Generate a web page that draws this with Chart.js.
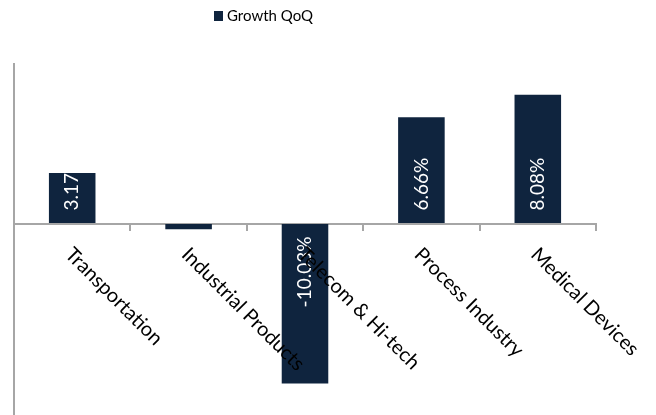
<!DOCTYPE html>
<html><head><meta charset="utf-8">
<script src="https://cdn.jsdelivr.net/npm/chart.js@4"></script>
<style>html,body{margin:0;padding:0;background:#fff;overflow:hidden}#wrap{width:656px;height:415px;position:relative}</style>
</head><body><div id="wrap"><canvas id="c"></canvas></div>
<script>
const categories = ['Transportation', 'Industrial Products', 'Telecom & Hi-tech', 'Process Industry', 'Medical Devices'];
const growthQoQ = [3.17, -0.35, -10.03, 6.66, 8.08];
const valueLabels = ['3.17', '', '-10.03%', '6.66%', '8.08%'];
const seriesName = 'Growth QoQ';
const yMin = -12;
const yMax = 10;

const BAR = '#0f243e';
const AXIS = '#a6a6a6';
const FONT = 'Lato, "Open Sans", sans-serif';

const drawTexts = {
  id: 'drawTexts',
  afterDatasetsDraw(chart) {
    const ctx = chart.ctx;
    const meta = chart.getDatasetMeta(0);
    const ys = chart.scales.y;
    const xs = chart.scales.x;
    const zero = ys.getPixelForValue(0);
    // value labels
    ctx.save();
    ctx.font = '19px ' + FONT;
    ctx.fillStyle = '#ffffff';
    meta.data.forEach((bar, i) => {
      const txt = valueLabels[i];
      if (!txt) return;
      const pos = growthQoQ[i] >= 0;
      ctx.save();
      ctx.translate(bar.x, zero + (pos ? -13 : 13));
      ctx.rotate(-Math.PI / 2);
      ctx.textBaseline = 'middle';
      ctx.textAlign = pos ? 'left' : 'right';
      ctx.fillText(txt, 0, 0);
      ctx.restore();
    });
    ctx.restore();
    // category labels
    ctx.save();
    const fs = 20;
    ctx.font = fs + 'px ' + FONT;
    ctx.fillStyle = '#000000';
    const cap = 0.7165 * fs * 0.7071;
    categories.forEach((label, i) => {
      const cx = xs.getPixelForValue(i);
      ctx.save();
      ctx.translate(cx + 2 - cap, zero + 22 + cap);
      ctx.rotate(Math.PI / 4);
      ctx.textBaseline = 'alphabetic';
      ctx.textAlign = 'left';
      ctx.fillText(label, 0, 0);
      ctx.restore();
    });
    ctx.restore();
    // legend
    ctx.save();
    ctx.fillStyle = BAR;
    ctx.fillRect(214, 11, 9, 10);
    ctx.fillStyle = '#000000';
    ctx.font = '15px ' + FONT;
    ctx.textBaseline = 'middle';
    ctx.textAlign = 'left';
    ctx.fillText(seriesName, 227, 16.5);
    ctx.restore();
  }
};

new Chart(document.getElementById('c'), {
  type: 'bar',
  data: {
    labels: categories,
    datasets: [{
      label: seriesName,
      data: growthQoQ,
      backgroundColor: BAR,
      borderWidth: 0,
      barPercentage: 0.4,
      categoryPercentage: 1.0
    }]
  },
  options: {
    responsive: true,
    maintainAspectRatio: false,
    animation: false,
    layout: { padding: { left: 14, right: 60, top: 64, bottom: 0 } },
    plugins: { legend: { display: false }, tooltip: { enabled: false }, title: { display: false } },
    scales: {
      x: {
        position: { y: 0 },
        z: 1,
        offset: true,
        ticks: { display: false },
        grid: { offset: true, drawOnChartArea: false, drawTicks: true, tickLength: 6, color: AXIS, lineWidth: 2 },
        border: { display: true, color: AXIS, width: 2 }
      },
      y: {
        min: yMin,
        max: yMax,
        ticks: { display: false },
        grid: { drawOnChartArea: false, drawTicks: false },
        border: { display: true, color: AXIS, width: 2 }
      }
    }
  },
  plugins: [drawTexts]
});
</script>
</body></html>
